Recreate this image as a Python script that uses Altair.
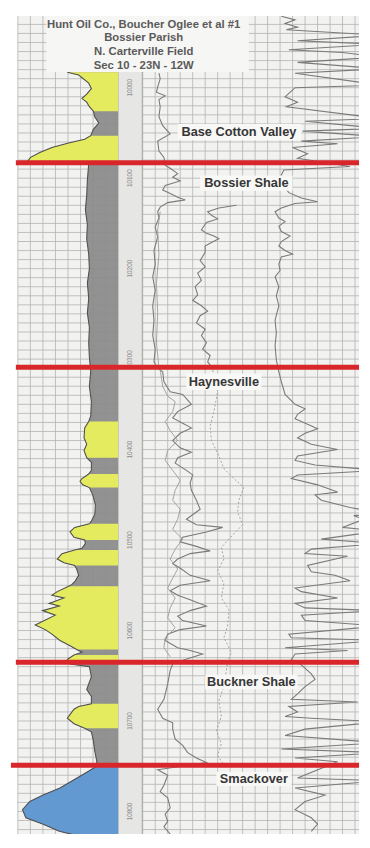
import altair as alt
import pandas as pd

# ---------------- data ----------------
title_lines = ["Hunt Oil Co., Boucher Oglee et al #1", "Bossier Parish",
               "N. Carterville Field", "Sec 10 - 23N - 12W"]

# formation tops (ft) drawn as red lines
formation_tops = [10083, 10309, 10635]
smackover_top = [10749]

# formation labels: name, depth of label, position in resistivity-track units
formation_names = ["Base Cotton Valley", "Bossier Shale", "Haynesville", "Buckner Shale", "Smackover"]
label_depth = [10049, 10105, 10325, 10657, 10764]
label_res = [7.7, 8.3, 6.5, 8.7, 8.9]
box_top = [10040, 10097, 10316, 10649, 10756]
box_base = [10058, 10114, 10334, 10665, 10772]
box_left = [2.8, 4.6, 3.5, 5.0, 5.9]
box_right = [12.7, 12.0, 9.5, 12.4, 11.9]

depth_ticks = [10000, 10100, 10200, 10300, 10400, 10500, 10600, 10700, 10800]
depth_tick_labels = ["10000", "10100", "10200", "10300", "10400", "10500", "10600", "10700", "10800"]

# gamma-ray curve (depth ft, API)
gr_curve = [
    (9983, 74), (9986, 91), (9995, 106), (10001, 110), (10007, 103), (10012, 96), (10016, 103),
    (10021, 107), (10026, 113), (10032, 115), (10039, 121), (10046, 113), (10053, 109), (10057, 100),
    (10061, 76), (10066, 51), (10072, 32), (10077, 19), (10083, 13),
    (10084, 106), (10102, 104), (10119, 103), (10135, 101), (10151, 104), (10167, 103), (10184, 106),
    (10200, 107), (10216, 104), (10233, 106), (10249, 104), (10265, 107), (10282, 106), (10298, 107),
    (10314, 109), (10330, 107), (10347, 110), (10363, 109),
    (10369, 106), (10376, 100), (10387, 99), (10394, 103), (10401, 99), (10409, 103), (10414, 110),
    (10423, 110), (10427, 106), (10432, 96), (10435, 93), (10439, 97), (10442, 107), (10450, 112),
    (10461, 116), (10472, 115), (10479, 110), (10482, 107), (10486, 85), (10491, 78), (10497, 84),
    (10500, 100), (10504, 101), (10509, 96), (10511, 85), (10515, 66), (10521, 59), (10525, 69),
    (10528, 85), (10532, 88), (10539, 91), (10546, 85), (10549, 81), (10551, 76), (10557, 59),
    (10561, 51), (10564, 69), (10570, 47), (10573, 62), (10578, 37), (10583, 56), (10594, 26),
    (10599, 41), (10604, 51), (10611, 63), (10616, 76), (10621, 88), (10624, 96), (10627, 84),
    (10632, 74), (10637, 78),
    (10640, 107), (10651, 110), (10665, 103), (10673, 110), (10681, 110), (10684, 91), (10687, 84),
    (10697, 74), (10703, 84), (10708, 100), (10712, 110), (10722, 113), (10733, 115), (10744, 118),
    (10750, 118), (10758, 100), (10765, 84), (10774, 63), (10782, 37), (10789, 18), (10798, 7),
    (10807, 12), (10814, 37), (10822, 62), (10827, 91), (10828, 118),
]

# porous intervals coloured in the GR track (top ft, base ft, facies)
porous_intervals = [
    (9983, 10026, "Sand"), (10053, 10083, "Sand"), (10369, 10409, "Sand"), (10427, 10442, "Sand"),
    (10482, 10500, "Sand"), (10511, 10528, "Sand"), (10551, 10621, "Sand"), (10627, 10637, "Sand"),
    (10681, 10708, "Sand"), (10750, 10828, "Limestone"),
]

# resistivity-type curves (depth ft, value)
curve_a = [
    (9984, 1.3), (9990, 1.4), (9999, 1.2), (10005, 1.1), (10009, 1.8), (10013, 1.3), (10021, 1.4),
    (10032, 1.3), (10042, 1.6), (10051, 2.2), (10059, 1.2), (10070, 1.3), (10077, 1.7), (10086, 1.8),
    (10089, 2.2), (10095, 2.8), (10099, 2.4), (10103, 3.0), (10108, 1.8), (10113, 1.6), (10117, 2.2),
    (10121, 2.8), (10124, 3.4), (10127, 2.0), (10132, 1.4), (10137, 1.2), (10144, 1.3), (10154, 1.0),
    (10165, 1.2), (10180, 0.9), (10195, 1.0), (10209, 0.8), (10224, 1.0), (10241, 0.8), (10257, 0.9),
    (10274, 0.8), (10289, 1.0), (10303, 0.9), (10310, 1.2),
    (10314, 1.6), (10325, 1.7), (10336, 2.2), (10339, 3.2), (10350, 3.9), (10358, 2.8), (10365, 2.4),
    (10371, 3.2), (10376, 3.9), (10382, 3.0), (10390, 2.4), (10398, 3.0), (10403, 3.9), (10409, 2.8),
    (10415, 2.6), (10423, 3.5), (10428, 4.0), (10437, 3.8), (10445, 3.9), (10456, 4.3), (10466, 4.6),
    (10477, 3.5), (10483, 4.3), (10486, 6.4), (10491, 5.1), (10497, 3.2), (10502, 3.0), (10507, 4.3),
    (10512, 5.4), (10515, 3.8), (10521, 2.8), (10526, 2.4), (10532, 3.1), (10539, 3.8), (10545, 5.4),
    (10550, 3.0), (10556, 2.2), (10561, 2.8), (10566, 3.8), (10573, 5.1), (10578, 3.8), (10584, 2.8),
    (10589, 3.2), (10595, 5.1), (10599, 3.0), (10604, 2.0), (10611, 1.8), (10619, 2.8), (10622, 3.8),
    (10626, 4.8), (10632, 3.4),
    (10637, 2.4), (10644, 2.2), (10659, 2.0), (10676, 1.7), (10687, 1.2), (10697, 1.6), (10702, 2.4),
    (10709, 2.4), (10720, 2.6), (10727, 3.2), (10735, 3.6), (10741, 4.3), (10746, 5.1),
    (10754, 1.2), (10760, 2.0), (10771, 1.7), (10778, 1.4), (10785, 2.0), (10796, 2.2), (10803, 1.8),
    (10811, 2.0), (10817, 1.7), (10825, 2.2),
]
curve_a2 = [
    (10137, 1.4), (10157, 1.2), (10184, 1.3), (10216, 1.1), (10249, 1.2), (10282, 1.1), (10310, 1.3),
    (10312, 1.4), (10330, 1.6), (10341, 2.0), (10347, 2.6), (10358, 2.4), (10369, 1.8), (10379, 2.2),
    (10390, 2.8), (10401, 2.0), (10412, 1.8), (10423, 2.4), (10434, 3.0), (10445, 2.6), (10456, 2.4),
    (10466, 3.0), (10477, 2.8), (10488, 2.4), (10499, 3.2), (10510, 2.6), (10521, 2.2), (10532, 2.8),
    (10542, 2.4), (10553, 2.0), (10564, 2.6), (10575, 2.2), (10586, 2.0), (10597, 2.6), (10608, 1.8),
    (10619, 1.7), (10629, 2.2),
]
curve_b = [
    (10130, 7.5), (10133, 6.1), (10137, 5.2), (10141, 5.5), (10145, 6.0), (10149, 5.1), (10157, 4.7),
    (10161, 5.1), (10164, 5.7), (10167, 6.1), (10171, 5.5), (10175, 5.0), (10182, 5.0), (10191, 4.6),
    (10198, 5.0), (10205, 4.4), (10213, 4.7), (10220, 4.2), (10229, 4.4), (10235, 4.0), (10241, 4.7),
    (10247, 5.2), (10252, 4.6), (10260, 4.3), (10267, 5.0), (10274, 4.7), (10282, 5.1), (10289, 4.8),
    (10296, 5.4), (10303, 5.2), (10310, 5.6),
]
curve_b_faint = [
    (10312, 5.6), (10336, 6.0), (10358, 5.7), (10374, 5.4), (10390, 5.5), (10407, 6.1), (10421, 6.5),
    (10432, 7.3), (10442, 8.1), (10456, 7.7), (10469, 7.6), (10483, 8.0), (10499, 6.9), (10508, 6.3),
    (10521, 6.5), (10534, 6.0), (10548, 6.5), (10564, 6.3), (10577, 6.9), (10595, 6.8), (10608, 6.5),
    (10624, 7.1), (10635, 6.8), (10662, 6.5), (10678, 6.1), (10695, 6.3), (10711, 5.9), (10725, 6.3),
    (10738, 6.0), (10749, 6.5),
]
curve_c = [
    (9921, 11.1), (9925, 12.2), (9929, 11.4), (9933, 12.4), (9936, 11.5), (9942, 19), (9948, 12.4),
    (9952, 19), (9958, 11.7), (9961, 16.0), (9966, 19), (9972, 12.4), (9979, 19), (9984, 12.2),
    (9997, 19), (10000, 12.2), (10010, 11.4), (10016, 12.4), (10021, 11.5), (10034, 19), (10037, 13.0),
    (10045, 19), (10048, 12.8), (10054, 19), (10059, 12.7), (10062, 15.6), (10066, 12.0), (10073, 13.2),
    (10078, 12.4), (10087, 16.6), (10091, 11.3), (10102, 10.9), (10116, 11.7), (10122, 12.7),
    (10126, 14.0), (10128, 12.2), (10133, 11.1), (10137, 10.6), (10144, 10.9), (10148, 11.4),
    (10153, 10.9), (10159, 11.1), (10164, 11.8), (10170, 11.1), (10175, 10.9), (10180, 11.4),
    (10184, 12.0), (10187, 11.1), (10195, 10.9), (10202, 11.0), (10209, 10.6), (10220, 10.9),
    (10230, 10.7), (10241, 10.9), (10257, 10.6), (10271, 10.7), (10285, 10.6), (10301, 10.7),
    (10314, 10.9), (10325, 11.1), (10339, 11.4), (10350, 12.2), (10355, 13.0), (10361, 12.4),
    (10366, 12.2), (10372, 13.2), (10377, 14.0), (10382, 13.0), (10387, 12.4), (10394, 13.5),
    (10400, 15.6), (10407, 12.4), (10412, 12.2), (10417, 13.8), (10423, 19), (10428, 12.4),
    (10432, 11.9), (10439, 14.0), (10447, 15.6), (10450, 13.8), (10456, 14.3), (10464, 16.6),
    (10470, 19), (10473, 16.9), (10477, 17.7), (10486, 16.0), (10490, 19), (10499, 14.3), (10504, 19),
    (10510, 13.5), (10515, 13.0), (10518, 16.4), (10528, 13.2), (10535, 13.5), (10539, 15.4),
    (10545, 16.6), (10553, 12.2), (10557, 12.7), (10564, 15.6), (10570, 12.2), (10575, 13.0),
    (10578, 19), (10583, 12.7), (10589, 13.0), (10595, 19), (10604, 11.7), (10608, 11.9), (10611, 19),
    (10619, 11.4), (10622, 16.4), (10626, 12.2), (10632, 11.9), (10638, 12.7), (10648, 13.5),
    (10654, 13.8), (10662, 13.0), (10670, 12.4), (10676, 11.9), (10679, 17.2), (10684, 11.7),
    (10690, 12.4), (10695, 11.4), (10697, 13.5), (10701, 19), (10709, 13.0), (10716, 11.4), (10724, 19),
    (10731, 11.1), (10735, 19), (10741, 12.2), (10745, 15.6), (10763, 12.4), (10766, 19), (10774, 12.2),
    (10782, 14.6), (10789, 13.0), (10798, 12.2), (10807, 13.5), (10814, 14.0), (10822, 13.5),
]

# ---------------- tables ----------------
gr_df = pd.DataFrame(gr_curve, columns=["depth", "gr"])
rows = []
for i, (top, base, fac) in enumerate(porous_intervals):
    seg = gr_df[(gr_df.depth >= top) & (gr_df.depth <= base)]
    for d, g in zip(seg.depth, seg.gr):
        rows.append({"depth": d, "gr": g, "interval": i, "facies": fac})
porous_df = pd.DataFrame(rows)

res_rows = []
for name, crv in [("A", curve_a), ("C", curve_c)]:
    for d, v in crv:
        res_rows.append({"depth": d, "res": v, "curve": name})
res_main = pd.DataFrame(res_rows)
res_a2 = pd.DataFrame(curve_a2, columns=["depth", "res"])
res_b = pd.DataFrame(curve_b, columns=["depth", "res"])
res_bf = pd.DataFrame(curve_b_faint, columns=["depth", "res"])

labels_df = pd.DataFrame({"name": formation_names, "depth": label_depth, "res": label_res,
                          "top": box_top, "base": box_base, "left": box_left, "right": box_right})
tops_df = pd.DataFrame({"depth": formation_tops})
smk_df = pd.DataFrame({"depth": smackover_top})
ticks_df = pd.DataFrame({"depth": depth_ticks, "label": depth_tick_labels})
one = pd.DataFrame({"k": [0]})

h_grid = pd.DataFrame({"depth": list(range(9930, 10830, 10))})
gr_grid = pd.DataFrame({"gr": [i * 18.75 for i in range(9)]})
res_grid = pd.DataFrame({"res": list(range(0, 18))})

# ---------------- scales ----------------
y_scale = alt.Scale(domain=[9920.65, 10825.0], reverse=True, nice=False, zero=False)
gr_scale = alt.Scale(domain=[0, 150], range=[7, 109], nice=False, zero=False)
res_scale = alt.Scale(domain=[0, 20], range=[134, 388], nice=False, zero=False)

def Yd(field="depth"):
    return alt.Y(f"{field}:Q", scale=y_scale, axis=None)

GRID = "#b2b2b2"
FONT = "Liberation Sans"

paper = alt.Chart(one).mark_rect(color="#f2f2f0").encode(
    x=alt.value(7), x2=alt.value(354), y=alt.value(0), y2=alt.value(832))
depth_track = alt.Chart(one).mark_rect(color="#e6e6e4").encode(
    x=alt.value(109), x2=alt.value(133), y=alt.value(0), y2=alt.value(832))
depth_edge = alt.Chart(one).mark_rule(color="#a3a3a3", strokeWidth=1).encode(
    x=alt.value(133.5), y=alt.value(0), y2=alt.value(832))

grid_left_h = alt.Chart(h_grid).mark_rule(color=GRID, strokeWidth=0.8).encode(
    y=Yd(), x=alt.XDatum(0, scale=gr_scale, axis=None), x2=alt.X2Datum(150))
grid_left_v = alt.Chart(gr_grid).mark_rule(color=GRID, strokeWidth=0.8).encode(
    x=alt.X("gr:Q", scale=gr_scale, axis=None), y=alt.value(0), y2=alt.value(832))
grid_right_h = alt.Chart(h_grid).mark_rule(color=GRID, strokeWidth=0.8, clip=True).encode(
    y=Yd(), x=alt.XDatum(0, scale=res_scale, axis=None), x2=alt.X2Datum(20))
grid_right_v = alt.Chart(res_grid).mark_rule(color=GRID, strokeWidth=0.8).encode(
    x=alt.X("res:Q", scale=res_scale, axis=None), y=alt.value(0), y2=alt.value(832))

gray_fill = alt.Chart(gr_df).mark_area(orient="horizontal", color="#8c8c8c", opacity=0.95, clip=True).encode(
    y=Yd(), x=alt.X("gr:Q", scale=gr_scale, axis=None, stack=None), x2=alt.X2Datum(150))
porous_fill = alt.Chart(porous_df).mark_area(orient="horizontal", opacity=0.9, clip=True).encode(
    y=Yd(), x=alt.X("gr:Q", scale=gr_scale, axis=None, stack=None), x2=alt.X2Datum(150),
    color=alt.Color("facies:N", scale=alt.Scale(domain=["Sand", "Limestone"],
                                                 range=["#eef55a", "#5d9ad8"]), legend=None),
    detail="interval:N")
gr_line = alt.Chart(gr_df).mark_line(color="#505050", strokeWidth=1.1, clip=True).encode(
    y=Yd(), x=alt.X("gr:Q", scale=gr_scale, axis=None), order="depth:Q")

main_curves = alt.Chart(res_main).mark_line(color="#7a7a7a", strokeWidth=1.1, clip=True).encode(
    y=Yd(), x=alt.X("res:Q", scale=res_scale, axis=None), detail="curve:N", order="depth:Q")
a2_curve = alt.Chart(res_a2).mark_line(color="#9a9a9a", strokeWidth=0.9, clip=True).encode(
    y=Yd(), x=alt.X("res:Q", scale=res_scale, axis=None), order="depth:Q")
b_curve = alt.Chart(res_b).mark_line(color="#7a7a7a", strokeWidth=1.1, clip=True).encode(
    y=Yd(), x=alt.X("res:Q", scale=res_scale, axis=None), order="depth:Q")
bf_curve = alt.Chart(res_bf).mark_line(color="#9a9a9a", strokeWidth=0.9, strokeDash=[2, 2], clip=True).encode(
    y=Yd(), x=alt.X("res:Q", scale=res_scale, axis=None), order="depth:Q")

label_boxes = alt.Chart(labels_df).mark_rect(color="#f8f8f6").encode(
    x=alt.X("left:Q", scale=res_scale, axis=None), x2="right:Q",
    y=Yd("top"), y2="base:Q")
label_text = alt.Chart(labels_df).mark_text(font=FONT, fontWeight="bold", fontSize=13,
                                            color="#363636", align="center", baseline="middle").encode(
    x=alt.X("res:Q", scale=res_scale, axis=None), y=Yd(), text="name:N")

red_lines = alt.Chart(tops_df).mark_rule(color="#d9262b", strokeWidth=5).encode(
    y=Yd(), x=alt.value(5), x2=alt.value(354))
red_smk = alt.Chart(smk_df).mark_rule(color="#d9262b", strokeWidth=5).encode(
    y=Yd(), x=alt.value(0), x2=alt.value(354))

depth_labels = alt.Chart(ticks_df).mark_text(angle=270, fontSize=6.5, color="#8a8a8a",
                                             font=FONT, align="center", baseline="middle").encode(
    x=alt.value(121), y=Yd(), text="label:N")

title_box = alt.Chart(one).mark_rect(color="#f6f6f5").encode(
    x=alt.value(36), x2=alt.value(242), y=alt.value(0), y2=alt.value(57))
title_text = alt.Chart(one).mark_text(font=FONT, fontWeight="bold", fontSize=11.5, color="#5a5a5a",
                                      align="center", baseline="top", lineBreak="\n",
                                      lineHeight=14).encode(
    x=alt.value(135), y=alt.value(3), text=alt.value("\n".join(title_lines)))

chart = alt.layer(
    paper, depth_track, grid_left_h, grid_left_v, grid_right_h, grid_right_v, depth_edge,
    gray_fill, porous_fill, gr_line,
    main_curves, a2_curve, b_curve, bf_curve,
    label_boxes, label_text, depth_labels, red_lines, red_smk, title_box, title_text,
).resolve_scale(x="independent").properties(
    width=354, height=832, padding=0, background="#ffffff"
).configure_view(stroke=None)

chart.save("out.html", embed_options={"renderer": "svg", "actions": False})
